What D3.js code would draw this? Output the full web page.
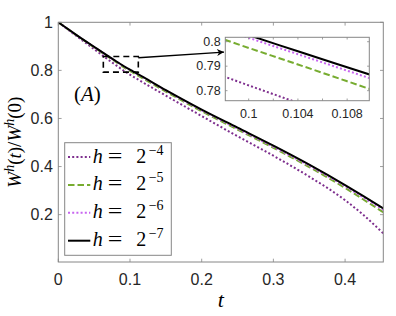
<!DOCTYPE html>
<html>
<head>
<meta charset="utf-8">
<script src="https://cdn.jsdelivr.net/npm/d3@7"></script>
<style>
  html, body { margin: 0; padding: 0; background: #fff; }
  svg { display: block; }
  .tick-lbl { font-family: "Liberation Sans", Arial, sans-serif; fill: #262626; }
  .math { font-family: "Liberation Serif", "Times New Roman", serif; fill: #000; }
</style>
</head>
<body>
<div id="chart"></div>
<script>
/* === W^h(t)/W^h(0) convergence plot with zoomed inset === */

// time samples (shared by all series)
const tVals = [0, 0.025, 0.05, 0.075, 0.098, 0.104, 0.11, 0.15, 0.2, 0.25, 0.3, 0.35, 0.4, 0.425, 0.4533];

// normalised W for each mesh size
const wH4 = [1.000, 0.944, 0.888, 0.833, 0.7858, 0.7750, 0.7642, 0.695, 0.610, 0.526, 0.445, 0.358, 0.260, 0.200, 0.122];
const wH5 = [1.000, 0.947, 0.896, 0.846, 0.8009, 0.7907, 0.7804, 0.712, 0.630, 0.554, 0.478, 0.398, 0.311, 0.264, 0.210];
const wH6 = [1.000, 0.947, 0.897, 0.848, 0.8050, 0.7949, 0.7848, 0.716, 0.634, 0.558, 0.482, 0.403, 0.318, 0.272, 0.220];
const wH7 = [1.000, 0.948, 0.898, 0.849, 0.8060, 0.7961, 0.7863, 0.718, 0.637, 0.562, 0.487, 0.408, 0.323, 0.278, 0.226];

const seriesExp = ["4", "5", "6", "7"];

// axes ranges and ticks
const xDomain = [0, 0.4533];
const yDomain = [0.003, 1];
const xTicks = [0, 0.1, 0.2, 0.3, 0.4];
const yTicks = [0.2, 0.4, 0.6, 0.8, 1];

const insetX = [0.0981, 0.1098];
const insetY = [0.7759, 0.8018];
const insetXTicks = [0.1, 0.102, 0.104, 0.106, 0.108];
const insetXLabels = [0.1, 0.104, 0.108];
const insetYTicks = [0.78, 0.79, 0.8];

// zoom box and arrow, in main data coords
const zoomBox = [0.0628, 0.1116, 0.7929, 0.858];
const arrowFrom = [0.1116, 0.8525];
const arrowTo = [0.2311, 0.8762];

const W = 396, H = 316;
const axisGray = "#868686";

const styles = [
  { color: "#7E2F8E", dash: "2,2.2", width: 2 },
  { color: "#77AC30", dash: "6.5,3", width: 2 },
  { color: "#C765F0", dash: "2,2.2", width: 2 },
  { color: "#000000", dash: null, width: 2 }
];

const series = [wH4, wH5, wH6, wH7].map((vals, i) => ({
  exp: seriesExp[i],
  style: styles[i],
  pts: tVals.map((t, j) => [t, vals[j]])
}));

const svg = d3.select("#chart").append("svg")
  .attr("width", W).attr("height", H);

const defs = svg.append("defs");

function drawAxes(g, x, y, opt) {
  const [x0, x1] = x.range();
  const [y0, y1] = y.range(); // y0 bottom, y1 top
  const tl = opt.tickLen;
  // ticks on all four sides, inward
  opt.xTicks.forEach(v => {
    const px = x(v);
    g.append("line").attr("x1", px).attr("x2", px).attr("y1", y0).attr("y2", y0 - tl)
      .attr("stroke", axisGray).attr("stroke-width", 0.8);
    g.append("line").attr("x1", px).attr("x2", px).attr("y1", y1).attr("y2", y1 + tl)
      .attr("stroke", axisGray).attr("stroke-width", 0.8);
  });
  opt.yTicks.forEach(v => {
    const py = y(v);
    g.append("line").attr("x1", x0).attr("x2", x0 + tl).attr("y1", py).attr("y2", py)
      .attr("stroke", axisGray).attr("stroke-width", 0.8);
    g.append("line").attr("x1", x1).attr("x2", x1 - tl).attr("y1", py).attr("y2", py)
      .attr("stroke", axisGray).attr("stroke-width", 0.8);
  });
  g.append("rect")
    .attr("x", x0).attr("y", y1)
    .attr("width", x1 - x0).attr("height", y0 - y1)
    .attr("fill", "none").attr("stroke", axisGray).attr("stroke-width", 1);

  opt.xLabels.forEach(v => {
    g.append("text").attr("class", "tick-lbl")
      .attr("x", x(v)).attr("y", y0 + opt.xLabelOff)
      .attr("text-anchor", "middle")
      .style("font-size", opt.fontSize + "px")
      .text(opt.fmt(v));
  });
  opt.yTicks.forEach(v => {
    g.append("text").attr("class", "tick-lbl")
      .attr("x", x0 - opt.yLabelOff).attr("y", y(v))
      .attr("text-anchor", "end")
      .attr("dominant-baseline", "central")
      .style("font-size", opt.fontSize + "px")
      .text(opt.fmt(v));
  });
}

function drawSeries(g, x, y, clipId) {
  const line = d3.line().x(d => x(d[0])).y(d => y(d[1])).curve(d3.curveMonotoneX);
  const lg = g.append("g").attr("clip-path", `url(#${clipId})`);
  series.forEach(s => {
    lg.append("path")
      .attr("d", line(s.pts))
      .attr("fill", "none")
      .attr("stroke", s.style.color)
      .attr("stroke-width", s.style.width)
      .attr("stroke-dasharray", s.style.dash);
  });
}

function addClip(id, x, y) {
  defs.append("clipPath").attr("id", id).append("rect")
    .attr("x", x.range()[0]).attr("y", y.range()[1])
    .attr("width", x.range()[1] - x.range()[0])
    .attr("height", y.range()[0] - y.range()[1]);
}

const fmt = v => d3.format("~g")(+v.toFixed(4));

// --- Main axes ---
const x = d3.scaleLinear().domain(xDomain).range([58.3, 383.3]);
const y = d3.scaleLinear().domain(yDomain).range([262, 22.3]);
addClip("clip-main", x, y);

const main = svg.append("g");
drawSeries(main, x, y, "clip-main");
drawAxes(main, x, y, {
  xTicks, yTicks, xLabels: xTicks, tickLen: 3.3,
  fontSize: 16, xLabelOff: 22.8, yLabelOff: 5.5, fmt
});

// zoom box + arrow
main.append("rect")
  .attr("x", x(zoomBox[0])).attr("y", y(zoomBox[3]))
  .attr("width", x(zoomBox[1]) - x(zoomBox[0]))
  .attr("height", y(zoomBox[2]) - y(zoomBox[3]))
  .attr("fill", "none").attr("stroke", "#000")
  .attr("stroke-width", 1.6).attr("stroke-dasharray", "6,4");

defs.append("marker").attr("id", "arrowhead")
  .attr("viewBox", "0 0 10 10").attr("refX", 10).attr("refY", 5)
  .attr("markerWidth", 9).attr("markerHeight", 7)
  .attr("markerUnits", "userSpaceOnUse")
  .attr("orient", "auto")
  .append("path").attr("d", "M0,0 L10,5 L0,10 L3,5 Z").attr("fill", "#000");

main.append("line")
  .attr("x1", x(arrowFrom[0])).attr("y1", y(arrowFrom[1]))
  .attr("x2", x(arrowTo[0])).attr("y2", y(arrowTo[1]))
  .attr("stroke", "#000").attr("stroke-width", 1.3)
  .attr("marker-end", "url(#arrowhead)");

// (A) label
const aLbl = main.append("text").attr("class", "math")
  .attr("x", x(0.0219)).attr("y", y(0.671))
  .style("font-size", "21px");
aLbl.append("tspan").text("(");
aLbl.append("tspan").style("font-style", "italic").text("A");
aLbl.append("tspan").text(")");

// axis titles
main.append("text").attr("class", "math")
  .attr("x", (x.range()[0] + x.range()[1]) / 2).attr("y", 307)
  .attr("text-anchor", "middle")
  .style("font-size", "22px").style("font-style", "italic")
  .text("t");

const yt = main.append("text").attr("class", "math")
  .attr("transform", `translate(21,${(y.range()[0] + y.range()[1]) / 2}) rotate(-90)`)
  .attr("text-anchor", "middle")
  .style("font-size", "19px");
yt.append("tspan").style("font-style", "italic").text("W");
yt.append("tspan").style("font-style", "italic").style("font-size", "14px").attr("dy", -7.5).text("h");
yt.append("tspan").attr("dy", 7.5).text("(");
yt.append("tspan").style("font-style", "italic").text("t");
yt.append("tspan").text(")/");
yt.append("tspan").style("font-style", "italic").text("W");
yt.append("tspan").style("font-style", "italic").style("font-size", "14px").attr("dy", -7.5).text("h");
yt.append("tspan").attr("dy", 7.5).text("(0)");

// --- Legend ---
const leg = svg.append("g");
leg.append("rect")
  .attr("x", 64.7).attr("y", 142.7).attr("width", 106.6).attr("height", 112.6)
  .attr("fill", "#fff").attr("stroke", axisGray).attr("stroke-width", 1);

series.forEach((s, i) => {
  const ry = 157 + i * 27.9;
  leg.append("line")
    .attr("x1", 68).attr("x2", 90.3).attr("y1", ry).attr("y2", ry)
    .attr("stroke", s.style.color).attr("stroke-width", s.style.width)
    .attr("stroke-dasharray", s.style.dash);
  const tx = 92.7;
  leg.append("text").attr("class", "math").attr("x", tx).attr("y", ry + 5.5)
    .style("font-size", "20px").style("font-style", "italic").text("h");
  leg.append("text").attr("class", "math")
    .attr("transform", `translate(${tx + 15},${ry + 5.5}) scale(1.3,1)`)
    .style("font-size", "20px").text("=");
  leg.append("text").attr("class", "math").attr("x", tx + 43.5).attr("y", ry + 5.5)
    .style("font-size", "20px").text("2");
  leg.append("text").attr("class", "math").attr("x", tx + 56).attr("y", ry - 2.5)
    .style("font-size", "14px").text("\u2212" + s.exp);
});

// --- Inset axes ---
const xi = d3.scaleLinear().domain(insetX).range([225.3, 369.3]);
const yi = d3.scaleLinear().domain(insetY).range([100.7, 37.3]);
addClip("clip-inset", xi, yi);

const inset = svg.append("g");
inset.append("rect")
  .attr("x", 225.3).attr("y", 37.3).attr("width", 144).attr("height", 63.4)
  .attr("fill", "#fff");
drawSeries(inset, xi, yi, "clip-inset");
drawAxes(inset, xi, yi, {
  xTicks: insetXTicks, yTicks: insetYTicks, xLabels: insetXLabels, tickLen: 2.2,
  fontSize: 12.5, xLabelOff: 17, yLabelOff: 4.6, fmt
});
</script>
</body>
</html>
